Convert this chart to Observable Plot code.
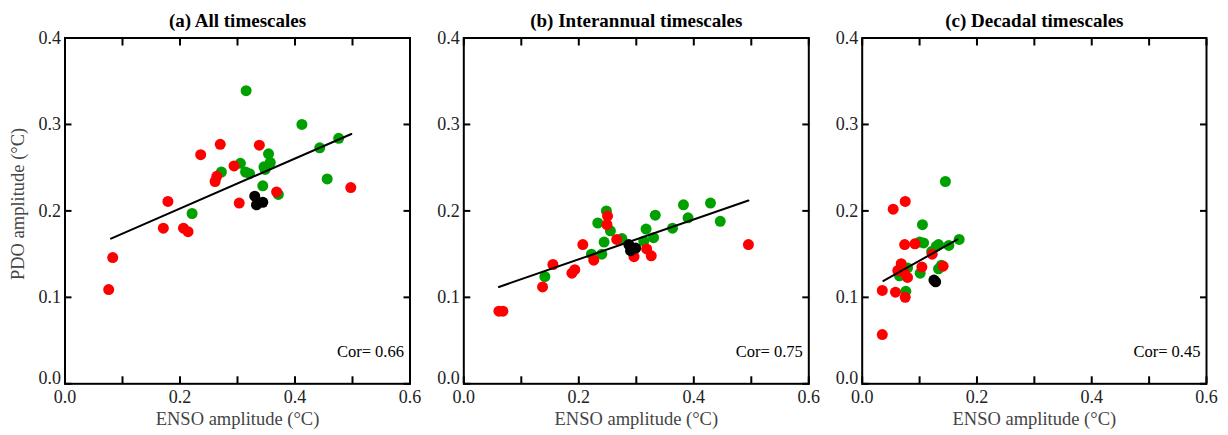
<!DOCTYPE html>
<html><head><meta charset="utf-8">
<script src="https://cdn.jsdelivr.net/npm/d3@7"></script>
<script src="https://cdn.jsdelivr.net/npm/@observablehq/plot@0.6"></script>
<style>
body{margin:0;background:#fff}
#wrap{position:relative;width:1228px;height:435px;overflow:hidden}
</style>
</head><body><div id="wrap"></div>
<script>
// ---- data (ENSO amplitude, PDO amplitude) ----
const titles = ["(a) All timescales", "(b) Interannual timescales", "(c) Decadal timescales"];
const cors = ["0.66", "0.75", "0.45"];
const xLabel = "ENSO amplitude (°C)";
const yLabel = "PDO amplitude (°C)";
const xTicksMinor = [0, 0.1, 0.2, 0.3, 0.4, 0.5, 0.6];
const xTicksMajor = [0, 0.2, 0.4, 0.6];
const yTicks = [0, 0.1, 0.2, 0.3, 0.4];

const allGreen = [[0.221,0.197],[0.272,0.245],[0.315,0.339],[0.305,0.255],[0.314,0.245],[0.321,0.243],[0.344,0.229],[0.346,0.251],[0.348,0.248],[0.354,0.266],[0.357,0.256],[0.371,0.219],[0.412,0.300],[0.443,0.273],[0.456,0.237],[0.476,0.284]];
const allRed = [[0.076,0.109],[0.083,0.146],[0.171,0.180],[0.179,0.211],[0.206,0.180],[0.214,0.176],[0.236,0.265],[0.261,0.234],[0.264,0.240],[0.270,0.277],[0.294,0.252],[0.303,0.209],[0.338,0.276],[0.368,0.222],[0.497,0.227]];
const allBlack = [[0.330,0.217],[0.333,0.207],[0.344,0.210]];
const allFit = [[0.080,0.168],[0.498,0.289]];

const interGreen = [[0.141,0.124],[0.222,0.150],[0.240,0.150],[0.233,0.186],[0.244,0.164],[0.248,0.200],[0.255,0.177],[0.275,0.168],[0.313,0.165],[0.317,0.179],[0.330,0.169],[0.333,0.195],[0.363,0.180],[0.382,0.207],[0.390,0.192],[0.429,0.209],[0.446,0.188]];
const interRed = [[0.061,0.084],[0.068,0.084],[0.137,0.112],[0.155,0.138],[0.188,0.128],[0.193,0.132],[0.207,0.161],[0.226,0.143],[0.250,0.194],[0.249,0.184],[0.266,0.167],[0.296,0.147],[0.318,0.156],[0.326,0.148],[0.495,0.161]];
const interBlack = [[0.287,0.161],[0.290,0.154],[0.299,0.157]];
const interFit = [[0.061,0.112],[0.495,0.212]];

const decGreen = [[0.065,0.125],[0.076,0.107],[0.079,0.134],[0.101,0.128],[0.105,0.184],[0.100,0.164],[0.107,0.163],[0.121,0.153],[0.129,0.159],[0.133,0.161],[0.133,0.133],[0.138,0.137],[0.145,0.234],[0.151,0.160],[0.169,0.167]];
const decRed = [[0.035,0.057],[0.035,0.108],[0.054,0.202],[0.058,0.106],[0.075,0.211],[0.075,0.100],[0.074,0.161],[0.062,0.131],[0.068,0.139],[0.073,0.129],[0.079,0.123],[0.092,0.162],[0.104,0.135],[0.122,0.150],[0.141,0.136]];
const decBlack = [[0.125,0.120],[0.128,0.118]];
const decFit = [[0.037,0.119],[0.166,0.167]];

// ---- layout ----
const panels = [
  {left: 0,   width: 430, ml: 64.5, mr: 20.5, green: allGreen,   red: allRed,   black: allBlack,   fit: allFit,   ylabel: true},
  {left: 430, width: 396, ml: 33.3, mr: 17.7, green: interGreen, red: interRed, black: interBlack, fit: interFit, ylabel: false},
  {left: 826, width: 402, ml: 35.7, mr: 22,   green: decGreen,   red: decRed,   black: decBlack,   fit: decFit,   ylabel: false}
];

const FONT = "'Liberation Serif', 'DejaVu Serif', serif";
const wrap = document.getElementById("wrap");
const fmt = d3.format(".1f");
const px = d => d[0], py = d => d[1];

panels.forEach((p, i) => {
  const marks = [
    Plot.dot(p.green, {x: px, y: py, r: 5.5, fill: "#00a000"}),
    Plot.dot(p.red, {x: px, y: py, r: 5.5, fill: "#ff0000"}),
    Plot.dot(p.black, {x: px, y: py, r: 5.5, fill: "#000"}),
    Plot.line(p.fit, {x: px, y: py, stroke: "#000", strokeWidth: 2}),
    // inward ticks on all four sides
    Plot.axisX({anchor: "bottom", ticks: xTicksMinor, tickSize: -7, strokeWidth: 2, tickFormat: () => "", label: null}),
    Plot.axisX({anchor: "top", ticks: xTicksMinor, tickSize: -7, strokeWidth: 2, tickFormat: () => "", label: null}),
    Plot.axisY({anchor: "left", ticks: yTicks, tickSize: -7, strokeWidth: 2, tickFormat: () => "", label: null}),
    Plot.axisY({anchor: "right", ticks: yTicks, tickSize: -7, strokeWidth: 2, tickFormat: () => "", label: null}),
    // tick labels
    Plot.axisX({anchor: "bottom", ticks: xTicksMajor, tickSize: 0, tickPadding: 6, tickFormat: fmt, fill: "#222", fontSize: 18, label: null}),
    Plot.axisY({anchor: "left", ticks: yTicks.slice(1), tickSize: 0, tickPadding: 4, tickFormat: fmt, fill: "#222", fontSize: 18, label: null}),
    Plot.axisY({anchor: "left", ticks: yTicks.slice(0, 1), tickSize: 0, tickPadding: 4, dy: -6, tickFormat: fmt, fill: "#222", fontSize: 18, label: null}),
    Plot.frame({stroke: "#000", strokeWidth: 2}),
    // axis titles
    Plot.text([xLabel], {frameAnchor: "bottom", dy: 35, textAnchor: "middle", lineAnchor: "middle", fontSize: 18.5, fill: "#444", ariaLabel: "xlab"}),
    ...(p.ylabel ? [Plot.text([yLabel], {frameAnchor: "left", dx: -46.5, dy: -7, rotate: -90, textAnchor: "middle", lineAnchor: "middle", fontSize: 18.5, fill: "#444", ariaLabel: "ylab"})] : []),
    Plot.text([titles[i]], {frameAnchor: "top", dy: -17.5, textAnchor: "middle", lineAnchor: "middle", fontWeight: "bold", fontSize: 19, fill: "#000", ariaLabel: "ptitle"}),
    Plot.text(["Cor= " + cors[i]], {frameAnchor: "bottom-right", dx: -6, dy: -31.6, textAnchor: "end", lineAnchor: "middle", fontSize: 16.5, fill: "#000"})
  ];
  const svg = Plot.plot({
    width: p.width, height: 435,
    marginLeft: p.ml, marginRight: p.mr, marginTop: 37.5, marginBottom: 51.7,
    x: {domain: [0, 0.6]},
    y: {domain: [0, 0.4]},
    style: {fontFamily: FONT, fontSize: "18px", color: "#000", background: "transparent", overflow: "visible",
      position: "absolute", left: p.left + "px", top: "0px", maxWidth: "none"},
    marks
  });
  d3.select(svg).selectAll('g[aria-label="xlab"] text, g[aria-label="ylab"] text').attr("letter-spacing", "1.1px");
  d3.select(svg).selectAll('g[aria-label="ptitle"] text').attr("letter-spacing", "1.1px");
  wrap.appendChild(svg);
});
</script>
</body></html>
